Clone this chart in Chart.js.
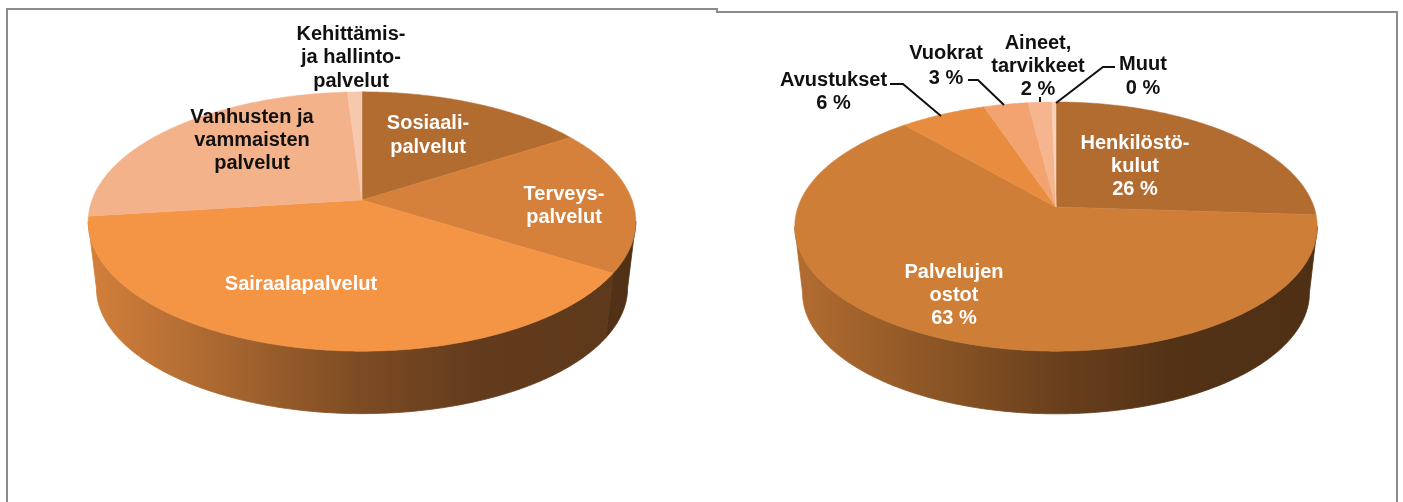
<!DOCTYPE html>
<html>
<head>
<meta charset="utf-8">
<title>Kustannukset</title>
<script src="https://cdn.jsdelivr.net/npm/chart.js@4"></script>
<style>
  html, body { margin: 0; padding: 0; background: #fff; overflow: hidden; }
  body { width: 1403px; height: 502px; position: relative; }
  .panel { position: absolute; box-sizing: border-box; border: 2px solid #8c8c8c; background: #fff; }
  #panelLeft { left: 6px; top: 8px; width: 712px; height: 520px; }
  #panelRight { left: 716px; top: 11px; width: 682px; height: 520px; border-left: none; }
  .wrap { position: absolute; top: 0; height: 502px; }
  #wrapLeft { left: 0; width: 717px; }
  #wrapRight { left: 717px; width: 686px; }
</style>
</head>
<body>
<div class="panel" id="panelLeft"></div>
<div class="panel" id="panelRight"></div>
<div class="wrap" id="wrapLeft"><canvas id="chartLeft"></canvas></div>
<div class="wrap" id="wrapRight"><canvas id="chartRight"></canvas></div>
<script>
const leftCategories = [
  "Sosiaali-\npalvelut",
  "Terveys-\npalvelut",
  "Sairaalapalvelut",
  "Vanhusten ja\nvammaisten\npalvelut",
  "Kehittämis-\nja hallinto-\npalvelut",
];
const leftValues = [15.9, 18, 39.1, 26, 1];
const leftColors = ["#b36c30", "#d5803b", "#f49445", "#f4b28b", "#f6c9ae"];

const rightCategories = [
  "Henkilöstö-\nkulut",
  "Palvelujen\nostot",
  "Avustukset",
  "Vuokrat",
  "Aineet,\ntarvikkeet",
  "Muut",
];
const rightValues = [26, 62.6, 6.2, 3.2, 1.7, 0.3];
const rightColors = ["#b36c30", "#cf7e38", "#e88c3f", "#f3a36f", "#f4b58f", "#f7d0b8"];

// where the labels sit on the page: x, y of first line, line gap, colour
const leftLabelSpots = [
  [428, 123, 24, "#fff"],
  [564, 194, 23, "#fff"],
  [301, 284, 23, "#fff"],
  [252, 117, 23, "#111"],
  [351, 34, 23.5, "#111"],
];
const rightLabelSpots = [
  [1135, 143, 23, "#fff"],
  [954, 272, 23, "#fff"],
  [833.5, 80, 23, "#111"],
  [946, 53, 25, "#111"],
  [1038, 43, 23, "#111"],
  [1143, 64, 24, "#111"],
];
const rightLeaders = [
  [[890, 84], [903, 84], [941, 116]],
  [[968, 80], [978, 80], [1004, 105]],
  [[1040, 97], [1040, 102]],
  [[1115, 67], [1103, 67], [1056, 103]],
];

// wall darkening from the left edge of the pie to the right one
const wallShade = [[0, 0.86], [0.2, 0.72], [0.5, 0.51], [0.72, 0.4], [1, 0.38]];

function shade(hex, f) {
  const n = parseInt(hex.slice(1), 16);
  const r = Math.round(((n >> 16) & 255) * f);
  const g = Math.round(((n >> 8) & 255) * f);
  const b = Math.round((n & 255) * f);
  return `rgb(${r},${g},${b})`;
}

// circle to ellipse with perspective, so the apex ends up above the middle
function project(arc, angle, tilt, persp, scale, drop) {
  const c = Math.cos(angle);
  const s = Math.sin(angle);
  const w = 1 - persp * s;
  return {
    x: arc.x + (arc.outerRadius * scale * c) / w,
    y: arc.y + drop + (arc.outerRadius * tilt * scale * s) / w,
  };
}

function pie3d(cfg) {
  return {
    id: "pie3d",
    beforeDatasetsDraw(chart) {
      const ctx = chart.ctx;
      const arcs = chart.getDatasetMeta(0).data;
      const colors = chart.data.datasets[0].backgroundColor;
      const first = arcs[0];
      // only the front of the wall shows, between the two outermost points
      const frontFrom = Math.asin(cfg.persp);
      const frontTo = Math.PI - frontFrom;

      arcs.forEach((arc, i) => {
        const from = Math.max(arc.startAngle, frontFrom);
        const to = Math.min(arc.endAngle, frontTo);
        if (to <= from) return;
        const grad = ctx.createLinearGradient(first.x - first.outerRadius, 0, first.x + first.outerRadius, 0);
        wallShade.forEach(([pos, f]) => grad.addColorStop(pos, shade(colors[i], f)));
        const steps = Math.max(2, Math.ceil((to - from) * 90));
        ctx.beginPath();
        for (let j = 0; j <= steps; j++) {
          const p = project(arc, from + ((to - from) * j) / steps, cfg.tilt, cfg.persp, 1, 0);
          j ? ctx.lineTo(p.x, p.y) : ctx.moveTo(p.x, p.y);
        }
        for (let j = steps; j >= 0; j--) {
          const p = project(arc, from + ((to - from) * j) / steps, cfg.tilt, cfg.persp, cfg.bottomScale, cfg.depth);
          ctx.lineTo(p.x, p.y);
        }
        ctx.closePath();
        ctx.fillStyle = grad;
        ctx.fill();
        // closes the hairline between two neighbouring walls
        ctx.strokeStyle = grad;
        ctx.lineWidth = 0.8;
        ctx.stroke();
      });

      arcs.forEach((arc, i) => {
        const steps = Math.max(2, Math.ceil((arc.endAngle - arc.startAngle) * 90));
        ctx.beginPath();
        ctx.moveTo(arc.x, arc.y);
        for (let j = 0; j <= steps; j++) {
          const a = arc.startAngle + ((arc.endAngle - arc.startAngle) * j) / steps;
          const p = project(arc, a, cfg.tilt, cfg.persp, 1, 0);
          ctx.lineTo(p.x, p.y);
        }
        ctx.closePath();
        ctx.fillStyle = colors[i];
        ctx.fill();
        ctx.strokeStyle = colors[i];
        ctx.lineWidth = 0.5;
        ctx.stroke();
      });
      return false;
    },
    afterDraw(chart) {
      const ctx = chart.ctx;
      const values = chart.data.datasets[0].data;
      ctx.save();
      ctx.strokeStyle = "#111";
      ctx.lineWidth = 2;
      (cfg.leaders || []).forEach((pts) => {
        ctx.beginPath();
        pts.forEach(([x, y], i) => {
          i ? ctx.lineTo(x - cfg.offsetX, y) : ctx.moveTo(x - cfg.offsetX, y);
        });
        ctx.stroke();
      });
      ctx.font = "bold 20px 'Liberation Sans', Arial, sans-serif";
      ctx.textAlign = "center";
      ctx.textBaseline = "middle";
      chart.data.labels.forEach((label, i) => {
        const [x, y, gap, color] = cfg.spots[i];
        const lines = label.split("\n");
        if (cfg.percent) lines.push(Math.round(values[i]) + " %");
        ctx.fillStyle = color;
        lines.forEach((line, j) => ctx.fillText(line, x - cfg.offsetX, y + j * gap));
      });
      ctx.restore();
    },
  };
}

function makeChart(id, labels, values, colors, radius, padding, cfg) {
  return new Chart(document.getElementById(id), {
    type: "pie",
    data: { labels, datasets: [{ data: values, backgroundColor: colors, borderWidth: 0 }] },
    options: {
      responsive: true,
      maintainAspectRatio: false,
      animation: false,
      radius,
      layout: { padding },
      plugins: { legend: { display: false }, tooltip: { enabled: false } },
    },
    plugins: [pie3d(cfg)],
  });
}

makeChart("chartLeft", leftCategories, leftValues, leftColors, 270, { left: 7, bottom: 102 }, {
  tilt: 0.467, persp: 0.166, depth: 67, bottomScale: 0.97, offsetX: 0, spots: leftLabelSpots, percent: false,
});
makeChart("chartRight", rightCategories, rightValues, rightColors, 258, { right: 8, bottom: 88 }, {
  tilt: 0.471, persp: 0.157, depth: 67, bottomScale: 0.97, offsetX: 717, spots: rightLabelSpots, leaders: rightLeaders, percent: true,
});
</script>
</body>
</html>
